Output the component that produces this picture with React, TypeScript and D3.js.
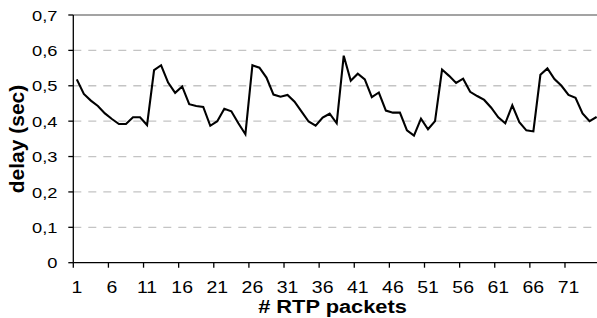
import { useEffect } from "react";
import * as d3 from "d3";

// RTP packet delay
const packets = d3.range(1, 76);
const delays = [
  0.518, 0.477, 0.458, 0.443, 0.422, 0.406, 0.392, 0.392, 0.411, 0.411,
  0.389, 0.544, 0.558, 0.509, 0.48, 0.498, 0.448, 0.443, 0.44, 0.387,
  0.4, 0.435, 0.428, 0.394, 0.363, 0.558, 0.551, 0.523, 0.475, 0.469,
  0.474, 0.455, 0.427, 0.399, 0.387, 0.41, 0.421, 0.394, 0.585, 0.514,
  0.534, 0.518, 0.468, 0.481, 0.43, 0.424, 0.424, 0.374, 0.359, 0.407,
  0.377, 0.4, 0.546, 0.528, 0.508, 0.52, 0.483, 0.471, 0.46, 0.438,
  0.411, 0.394, 0.445, 0.397, 0.374, 0.371, 0.531, 0.549, 0.519, 0.5,
  0.474, 0.466, 0.422, 0.4, 0.412,
];
const yTicks = [0, 0.1, 0.2, 0.3, 0.4, 0.5, 0.6, 0.7];
const xLabels = packets.filter((p) => (p - 1) % 5 === 0);

const FONT = "'Liberation Sans', Arial, sans-serif";
const SX = 1.18; // the reference text is a bit wide

function WideText({ x, y, anchor = "middle", size, bold = false, children }: any) {
  return (
    <g transform={`translate(${x},${y}) scale(${SX},1)`}>
      <text textAnchor={anchor} fontSize={size} fontFamily={FONT} fontWeight={bold ? "bold" : "normal"} fill="#000">
        {children}
      </text>
    </g>
  );
}

export default function App() {
  useEffect(() => {
    document.body.style.margin = "0";
  }, []);

  const width = 597, height = 318;
  const left = 73.3, top = 15, right = 600.1, bottom = 262.7;

  const x = d3.scaleBand<number>().domain(packets).range([left, right]).padding(0);
  const bw = x.bandwidth();
  const y = d3.scaleLinear().domain([0, 0.7]).range([bottom, top]);

  const line = d3
    .line<number>()
    .x((_, i) => (x(packets[i]) as number) + bw / 2)
    .y((d) => y(d));

  return (
    <svg width={width} height={height} style={{ display: "block" }}>
      <rect width={width} height={height} fill="#fff" />
      {/* grid */}
      {yTicks.slice(1, -1).map((t) => (
        <line key={`g${t}`} x1={left} x2={right} y1={y(t)} y2={y(t)} stroke="#c4c4c4" strokeWidth={1.3} strokeDasharray="8 7" />
      ))}
      <line x1={left} x2={right} y1={y(0.7)} y2={y(0.7)} stroke="#858585" strokeWidth={1.5} />
      {/* y axis */}
      <line x1={left} x2={left} y1={top} y2={bottom} stroke="#000" strokeWidth={1.3} />
      {yTicks.map((t) => (
        <g key={`y${t}`}>
          <line x1={left - 5} x2={left} y1={y(t)} y2={y(t)} stroke="#000" strokeWidth={1.3} />
          <WideText x={57.5} y={y(t) + 5.6} anchor="end" size={15.5}>
            {t === 0 ? "0" : t.toFixed(1).replace(".", ",")}
          </WideText>
        </g>
      ))}
      {/* x axis */}
      <line x1={left} x2={right} y1={bottom} y2={bottom} stroke="#000" strokeWidth={1.3} />
      {xLabels.map((p) => (
        <g key={`x${p}`}>
          <line x1={x(p)} x2={x(p)} y1={bottom} y2={bottom + 5} stroke="#000" strokeWidth={1.3} />
          <WideText x={(x(p) as number) + bw / 2} y={292.5} size={16.5}>
            {p}
          </WideText>
        </g>
      ))}
      {/* series */}
      <path d={line(delays) ?? ""} fill="none" stroke="#000" strokeWidth={2.1} strokeLinejoin="miter" />
      {/* titles */}
      <WideText x={332.5} y={312.5} size={18.5} bold>
        # RTP packets
      </WideText>
      <text transform={`translate(23.5,139) rotate(-90)`} textAnchor="middle" fontSize={21} fontWeight="bold" fontFamily={FONT} fill="#000">
        delay (sec)
      </text>
    </svg>
  );
}
